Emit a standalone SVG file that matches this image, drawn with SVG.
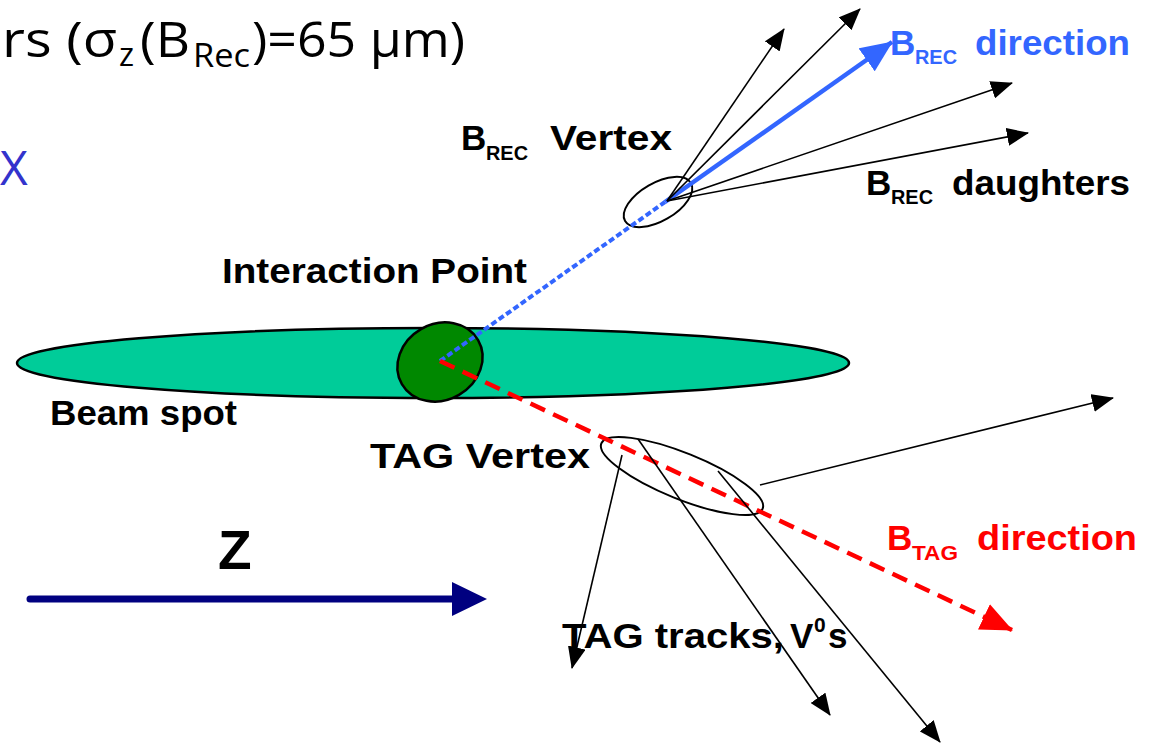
<svg xmlns="http://www.w3.org/2000/svg" width="1149" height="743" viewBox="0 0 1149 743">
<style>
.title{font-family:"Open Sans","Liberation Sans",sans-serif;font-size:50px;fill:#000}
.lbl{font-family:"Liberation Sans",Arial,sans-serif;font-weight:bold;font-size:35px;fill:#000}
.sub{font-size:21px}
.trk{stroke:#000;stroke-width:1.6;fill:none;marker-end:url(#ah)}
</style>
<defs>
<marker id="ah" markerUnits="userSpaceOnUse" markerWidth="22" markerHeight="18" refX="21" refY="9" orient="auto"><path d="M0,0 L22,9 L0,18 Z" fill="#000"/></marker>
<marker id="ahBlue" markerUnits="userSpaceOnUse" markerWidth="32" markerHeight="28" refX="31" refY="14" orient="auto"><path d="M0,0 L32,14 L0,28 Z" fill="#3366ff"/></marker>
<marker id="ahRed" markerUnits="userSpaceOnUse" markerWidth="32" markerHeight="28" refX="31" refY="14" orient="auto"><path d="M0,0 L32,14 L0,28 Z" fill="#ff0000"/></marker>
</defs>
<rect width="1149" height="743" fill="#fff"/>

<g id="title">
<text class="title" x="2" y="57"><tspan textLength="115" lengthAdjust="spacingAndGlyphs">rs (σ</tspan><tspan font-size="32" x="119" y="66">z</tspan><tspan x="140" y="57" textLength="50" lengthAdjust="spacingAndGlyphs">(B</tspan><tspan font-size="32" x="193" y="67" textLength="57" lengthAdjust="spacingAndGlyphs">Rec</tspan><tspan x="252" y="57" textLength="213" lengthAdjust="spacingAndGlyphs">)=65 μm)</tspan></text>
<text x="0" y="185" style="font-family:'Open Sans','Liberation Sans',sans-serif;font-size:48px;fill:#3333cc">X</text>
</g>

<g id="beam-spot">
<ellipse cx="433" cy="363" rx="416" ry="35" fill="#00cc99" stroke="#000" stroke-width="2.5"/>
<text class="lbl" x="50" y="425" textLength="187" lengthAdjust="spacingAndGlyphs">Beam spot</text>
</g>

<g id="interaction-point">
<ellipse cx="440" cy="362" rx="44" ry="38" transform="rotate(-30 440 362)" fill="#008800" stroke="#000" stroke-width="2.5"/>
<text class="lbl" x="222" y="283" textLength="305" lengthAdjust="spacingAndGlyphs">Interaction Point</text>
</g>

<g id="brec-vertex">
<ellipse cx="658" cy="202" rx="38" ry="19" transform="rotate(-30 658 202)" fill="none" stroke="#000" stroke-width="2"/>
<text class="lbl" x="461" y="150">B<tspan class="sub" x="486" y="160" textLength="42" lengthAdjust="spacingAndGlyphs">REC</tspan><tspan x="550" y="150" textLength="122" lengthAdjust="spacingAndGlyphs">Vertex</tspan></text>
</g>

<g id="tag-vertex">
<ellipse cx="682" cy="476" rx="87" ry="23" transform="rotate(22 682 476)" fill="none" stroke="#000" stroke-width="2"/>
<text class="lbl" x="370" y="468" textLength="220" lengthAdjust="spacingAndGlyphs">TAG Vertex</text>
</g>

<g id="labels">
<text class="lbl" x="890" y="55" style="fill:#3366ff">B<tspan class="sub" x="915" y="64" textLength="42" lengthAdjust="spacingAndGlyphs">REC</tspan><tspan x="975" y="55" textLength="155" lengthAdjust="spacingAndGlyphs">direction</tspan></text>
<text class="lbl" x="866" y="195">B<tspan class="sub" x="891" y="204" textLength="42" lengthAdjust="spacingAndGlyphs">REC</tspan><tspan x="952" y="195" textLength="178" lengthAdjust="spacingAndGlyphs">daughters</tspan></text>
<text class="lbl" x="887" y="550" style="fill:#ff0000">B<tspan class="sub" x="912" y="560" textLength="46" lengthAdjust="spacingAndGlyphs">TAG</tspan><tspan x="977" y="550" textLength="160" lengthAdjust="spacingAndGlyphs">direction</tspan></text>
<text class="lbl" x="562" y="648"><tspan textLength="222" lengthAdjust="spacingAndGlyphs">TAG tracks,</tspan><tspan x="790" y="648">V</tspan><tspan class="sub" x="814" y="632">0</tspan><tspan x="828" y="648">s</tspan></text>
<text class="lbl" x="218" y="569" style="font-size:55px">Z</text>
</g>

<g id="connectors">
<line x1="440" y1="361" x2="665" y2="202" stroke="#3366ff" stroke-width="4" stroke-dasharray="6 3"/>
<line x1="665" y1="202" x2="892" y2="42" stroke="#3366ff" stroke-width="4.5" marker-end="url(#ahBlue)"/>
<line x1="440" y1="361" x2="1012" y2="630" stroke="#ff0000" stroke-width="4.5" stroke-dasharray="16 9" marker-end="url(#ahRed)"/>
<line class="trk" x1="667" y1="201" x2="784" y2="29"/>
<line class="trk" x1="667" y1="201" x2="860" y2="9"/>
<line class="trk" x1="667" y1="201" x2="1012" y2="83"/>
<line class="trk" x1="667" y1="201" x2="1028" y2="133"/>
<line class="trk" x1="622" y1="455" x2="572" y2="668"/>
<line class="trk" x1="638" y1="439" x2="830" y2="715"/>
<line class="trk" x1="718" y1="471" x2="940" y2="742"/>
<line class="trk" x1="760" y1="485" x2="1113" y2="398"/>
<line x1="30" y1="599" x2="455" y2="599" stroke="#000080" stroke-width="7" stroke-linecap="round"/>
<path d="M452,582 L487,599 L452,616 Z" fill="#000080"/>
</g>
</svg>
